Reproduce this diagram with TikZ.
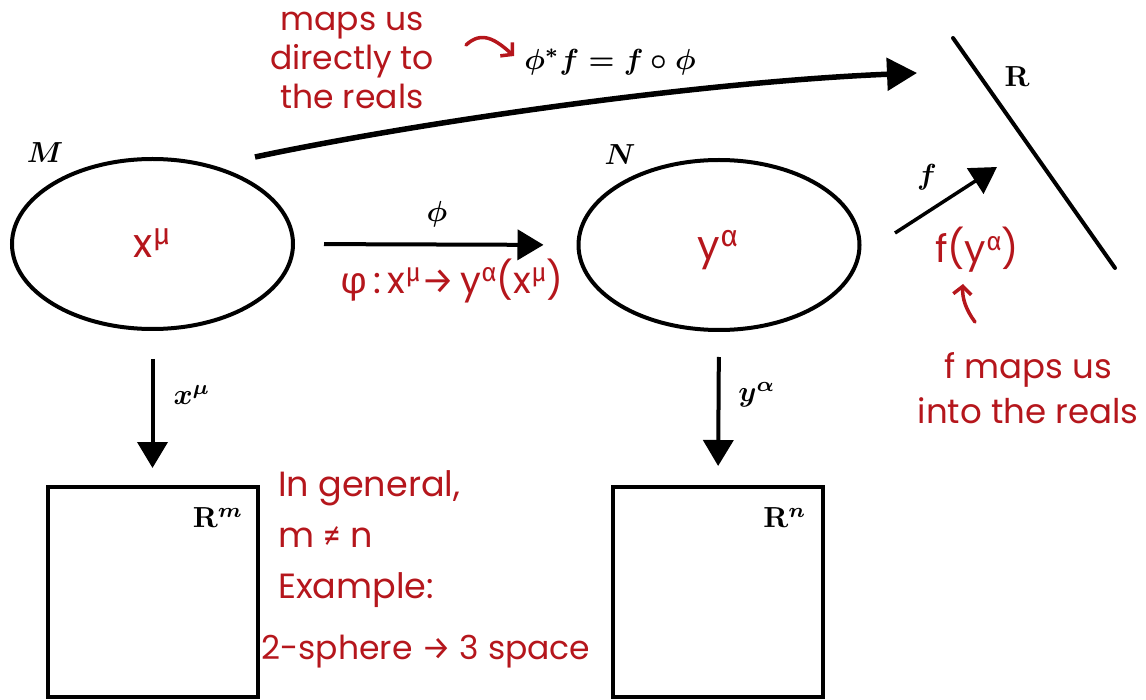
\documentclass[tikz,border=0pt]{standalone}
\usepackage{graphicx}
\usepackage{fontspec}
\usetikzlibrary{arrows.meta,shapes.geometric}
\newfontfamily\handfont{Poppins}
\newfontfamily\greekfont{Fira Sans}
\definecolor{ink}{HTML}{B5161C}
\newcommand\hsup[1]{\raisebox{0.6ex}{\fontsize{26}{26}\selectfont #1}}
\newcommand\bsup[1]{\raisebox{0.6ex}{\fontsize{30}{30}\selectfont #1}}
\newcommand\mth[1]{\scalebox{2.9}{\boldmath$#1$}}
\tikzset{
  hand/.style={text=ink,font=\handfont\fontsize{33}{39}\selectfont,inner sep=0pt},
  bighand/.style={text=ink,font=\handfont\fontsize{40}{44}\selectfont,inner sep=0pt},
  lab/.style={inner sep=0pt},
  blob/.style={draw,ellipse,line width=4pt,minimum width=281pt,minimum height=170pt,inner sep=0pt},
  boxnode/.style={draw,line width=4pt,minimum width=210pt,minimum height=210pt,inner sep=0pt},
  bigarrow/.style={line width=5.5pt,-{Triangle[length=30pt,width=32pt]}},
  midarrow/.style={line width=4pt,-{Triangle[length=26pt,width=30pt]}},
  redarrow/.style={ink,line width=3.5pt,line cap=round,-{Straight Barb[length=8pt,width=18pt]}},
}
\begin{document}
\begin{tikzpicture}[x=1pt,y=-1pt]
\useasboundingbox (0,0) rectangle (1146,700);
% manifolds
\node[blob] (M) at (152.5,244) {};
\node[blob] (N) at (719,245) {};
\node[lab] (Mlab) at (45,153) {\mth{M}};
\node[lab] (Nlab) at (620,155) {\mth{N}};
\node[bighand] (xmu) at (152,243) {x\bsup{\greekfont μ}};
\node[bighand] (yal) at (718,250) {y\bsup{\greekfont α}};
% boxes
\node[boxnode] (Rm) at (152.5,592) {};
\node[boxnode] (Rn) at (718,592) {};
\node[lab] (Rmlab) at (218,518) {\mth{\mathbf{R}^m}};
\node[lab] (Rnlab) at (785,518) {\mth{\mathbf{R}^n}};
% down arrows
\draw[midarrow,shorten <=28pt,shorten >=17pt] (M.south) -- (Rm.north);
\draw[midarrow,shorten <=25pt,shorten >=19pt] (N.south) -- (Rn.north);
\node[lab] (xlab) at (192,395) {\mth{x^\mu}};
\node[lab] (ylab) at (757,395) {\mth{y^\alpha}};
% phi arrow
\draw[midarrow,shorten <=29pt,shorten >=33pt] (M.east) -- (N.west);
\node[lab] (philab) at (437,214) {\mth{\phi}};
\node[hand,font=\handfont\fontsize{37}{40}\selectfont] (phimap) at (452,281) {{\greekfont φ}\,:\,x\hsup{\greekfont μ}{\greekfont →}\,y\hsup{\greekfont α}(x\hsup{\greekfont μ})};
% real line
\coordinate (Rtop) at (953,38);
\coordinate (Rbot) at (1115,268);
\draw[line width=4pt,line cap=round] (Rtop) -- (Rbot);
\node[lab] (Rlab) at (1017,77) {\mth{\mathbf{R}}};
% big arrow
\coordinate (bigstart) at (255,157);
\coordinate (bigend) at (917,73);
\draw[bigarrow] (bigstart) .. controls (420,122) and (700,82) .. (bigend);
\node[lab] (pull) at (610,62) {\mth{\phi^*f=f\circ\phi}};
\node[hand,align=center] (direct) at (352,60) {maps us\\directly to\\the reals};
\coordinate (ca) at (466,45);
\coordinate (cb) at (514,56);
\draw[redarrow] (ca) .. controls (482,30) and (496,40) .. (cb);
% f arrow
\coordinate (fstart) at (895,233);
\coordinate (fend) at (997,167);
\draw[midarrow,line width=3.5pt] (fstart) -- (fend);
\node[lab] (flab) at (927,177) {\mth{f}};
\node[hand,font=\handfont\fontsize{38}{40}\selectfont] (fy) at (977,250) {f(y\hsup{\greekfont α})};
\coordinate (fa) at (975,322);
\coordinate (fb) at (963,284);
\draw[redarrow] (fa) .. controls (966,310) and (962,298) .. (fb);
\node[hand,align=center,font=\handfont\fontsize{34}{45}\selectfont] (fmaps) at (1028,388) {f maps us\\into the reals};
% general note
\node[hand,align=left,anchor=north west,font=\handfont\fontsize{35}{51}\selectfont] (gen) at (278,470) {In general,\\m {\greekfont ≠} n\\Example:};
\node[hand] (sph) at (426,652) {2-sphere {\greekfont →} 3 space};
\end{tikzpicture}
\end{document}
